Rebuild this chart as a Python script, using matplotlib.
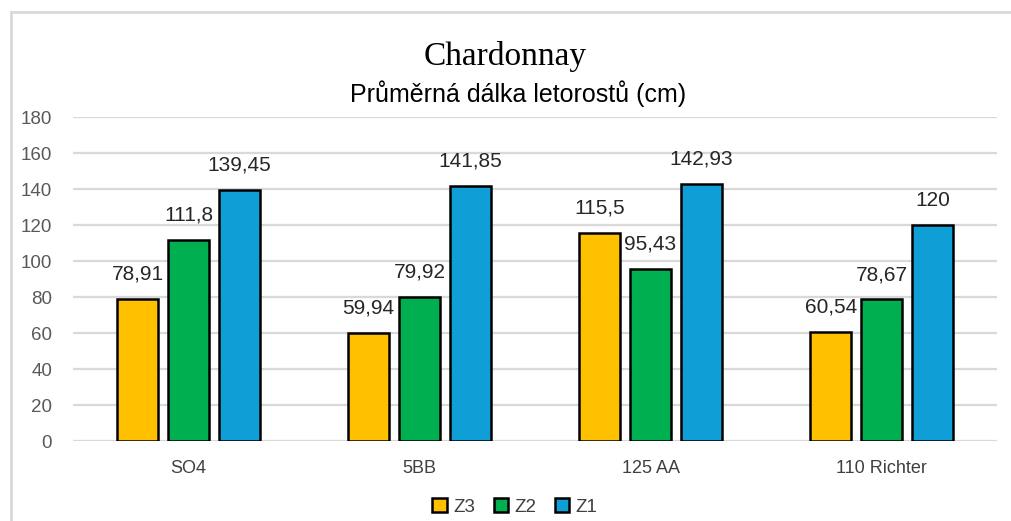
import matplotlib
matplotlib.use("Agg")
import matplotlib.pyplot as plt
from matplotlib.lines import Line2D
from matplotlib.patches import Patch

categories = ["SO4", "5BB", "125 AA", "110 Richter"]
series_names = ["Z3", "Z2", "Z1"]
z3 = [78.91, 59.94, 115.5, 60.54]
z2 = [111.8, 79.92, 95.43, 78.67]
z1 = [139.45, 141.85, 142.93, 120]
z3_labels = ["78,91", "59,94", "115,5", "60,54"]
z2_labels = ["111,8", "79,92", "95,43", "78,67"]
z1_labels = ["139,45", "141,85", "142,93", "120"]
colors = ["#FFC000", "#00B050", "#0F9ED5"]
yticks = [0, 20, 40, 60, 80, 100, 120, 140, 160, 180]

plt.rcParams["font.family"] = ["Liberation Sans", "DejaVu Sans"]

W, H = 1011, 521
fig = plt.figure(figsize=(W / 100, H / 100), dpi=100)
ax = fig.add_axes([73 / W, 1 - 441 / H, (997 - 73) / W, (441 - 117) / H])

values = [z3, z2, z1]
labels = [z3_labels, z2_labels, z1_labels]
pitch = 0.22
bw = 0.176
for j, (vals, labs) in enumerate(zip(values, labels)):
    xs = [i + (j - 1) * pitch for i in range(len(categories))]
    bars = ax.bar(xs, vals, width=bw, color=colors[j], edgecolor="black",
                  linewidth=1.8, zorder=3, label=series_names[j])
    for b, lab in zip(bars, labs):
        ax.annotate(lab, (b.get_x() + b.get_width() / 2, b.get_height()),
                    xytext=(0, 11), textcoords="offset points",
                    ha="center", va="bottom", fontsize=15, color="#262626")

ax.set_xlim(-0.5, len(categories) - 0.5)
ax.set_ylim(0, 180)
ax.set_yticks(yticks)
ax.set_yticklabels([str(t) for t in yticks])
ax.set_xticks(range(len(categories)))
ax.set_xticklabels(categories)
ax.tick_params(axis="y", length=0, pad=15, labelsize=13.5, labelcolor="#595959")
ax.tick_params(axis="x", length=0, pad=14, labelsize=13, labelcolor="#404040")
ax.grid(axis="y", color="#D9D9D9", linewidth=1.6, zorder=0)
for s in ax.spines.values():
    s.set_visible(False)

fig.text(0.5, 1 - 56 / H, "Chardonnay", ha="center", va="center",
         fontsize=24, family=["Liberation Serif", "DejaVu Serif"], color="#000000")
fig.text(518 / W, 1 - 94 / H, "Průměrná dálka letorostů (cm)", ha="center", va="center",
         fontsize=18, family=["Liberation Sans", "DejaVu Sans"], color="#000000")

handles = [Patch(facecolor=c, edgecolor="black", linewidth=1.8) for c in colors]
fig.legend(handles, series_names, loc="center", bbox_to_anchor=(515 / W, 1 - 507 / H),
           ncol=3, frameon=False, fontsize=13.5, handlelength=0.75, handleheight=0.75,
           handletextpad=0.35, columnspacing=1.0, labelcolor="#404040")

fig.add_artist(Line2D([11 / W, 11 / W], [0, 1 - 12 / H], transform=fig.transFigure,
                      color="#D9D9D9", linewidth=2))
fig.add_artist(Line2D([11 / W, 1], [1 - 12 / H, 1 - 12 / H], transform=fig.transFigure,
                      color="#D9D9D9", linewidth=2))

fig.savefig("out.png", dpi=100, facecolor="white")
